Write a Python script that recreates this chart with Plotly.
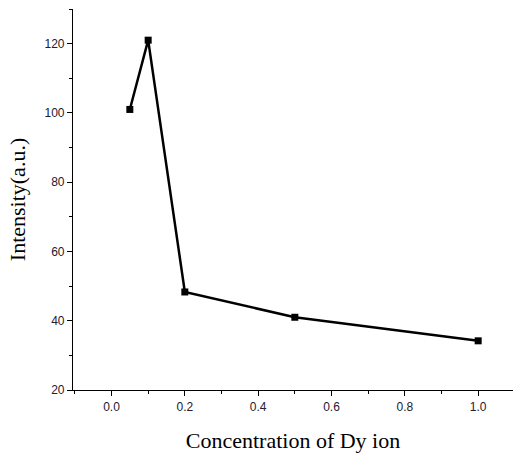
import plotly.graph_objects as go

conc = [0.05, 0.1, 0.2, 0.5, 1.0]
intensity = [101, 121, 48.3, 41, 34.2]

fig = go.Figure()
fig.add_trace(go.Scatter(
    x=conc, y=intensity, mode="lines+markers",
    line=dict(color="black", width=2.5),
    marker=dict(symbol="square", size=7, color="black"),
    showlegend=False,
))

tickfont = dict(family="Liberation Sans, Arial", size=12, color="#202030")
titlefont = dict(family="Liberation Serif, Times New Roman", size=22, color="black")

fig.update_layout(
    width=515, height=461,
    margin=dict(l=73, r=2, t=9, b=71),
    paper_bgcolor="white", plot_bgcolor="white",
    xaxis=dict(
        range=[-0.105, 1.095], tickvals=[0.0, 0.2, 0.4, 0.6, 0.8, 1.0],
        ticktext=["0.0", "0.2", "0.4", "0.6", "0.8", "1.0"],
        showgrid=False, zeroline=False, showline=True, linecolor="black", linewidth=1.2,
        ticks="outside", ticklen=5, tickcolor="black", tickwidth=1,
        minor=dict(ticks="outside", ticklen=3, tickcolor="black", tickwidth=1,
                   tickvals=[-0.1, 0.1, 0.3, 0.5, 0.7, 0.9, 1.1]),
        tickfont=tickfont,
        title=dict(text="Concentration of Dy ion", font=titlefont, standoff=20),
    ),
    yaxis=dict(
        range=[20, 130], tickvals=[20, 40, 60, 80, 100, 120],
        showgrid=False, zeroline=False, showline=True, linecolor="black", linewidth=1.2,
        ticks="outside", ticklen=5, tickcolor="black", tickwidth=1,
        minor=dict(ticks="outside", ticklen=3, tickcolor="black", tickwidth=1,
                   tickvals=[30, 50, 70, 90, 110, 130]),
        tickfont=tickfont,
        title=dict(text="Intensity(a.u.)", font=titlefont, standoff=12),
    ),
)

fig.write_html("out.html")
